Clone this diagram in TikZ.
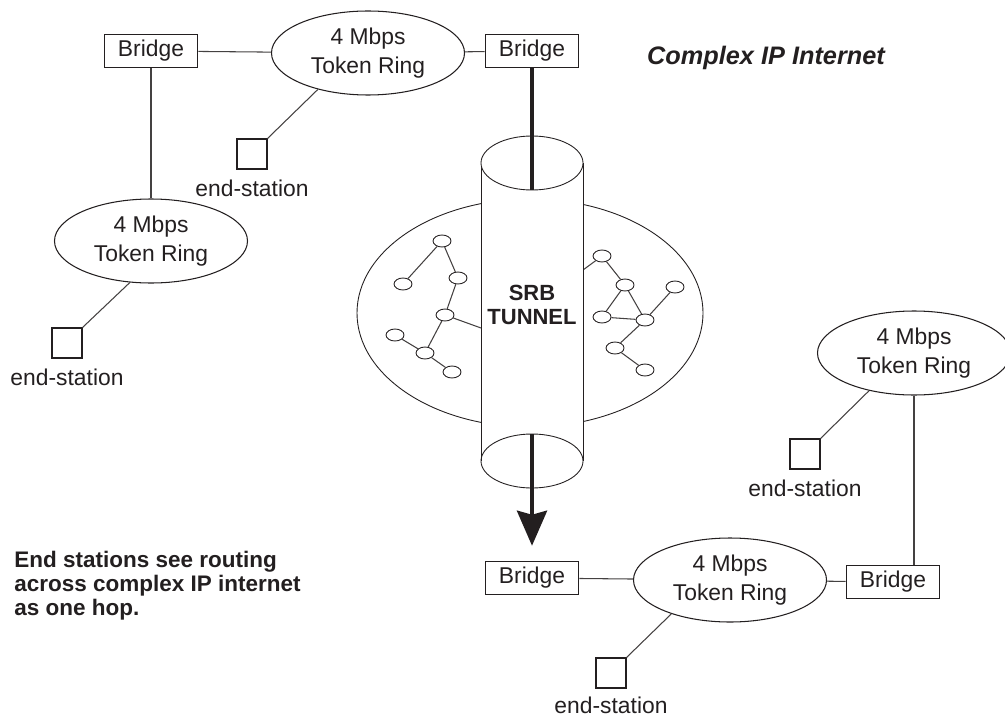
\documentclass[tikz,border=0pt]{standalone}
\usepackage{fontspec}
\setmainfont{Liberation Sans}
\usetikzlibrary{arrows.meta,shapes.geometric,positioning}
\definecolor{ink}{HTML}{231F20}
\begin{document}
\begin{tikzpicture}[x=0.2mm,y=-0.2mm,font=\fontsize{13}{16.5}\selectfont,text=ink]
\tikzstyle{bridge}=[rectangle,draw=ink,line width=0.6pt,minimum width=18.7mm,minimum height=6.7mm,inner sep=0pt]
\tikzstyle{ring}=[ellipse,draw=ink,line width=0.6pt,minimum width=38.6mm,minimum height=16.8mm,inner sep=0pt,align=center]
\tikzstyle{station}=[rectangle,draw=ink,line width=0.6pt,minimum size=6mm,inner sep=0pt]
\tikzstyle{stationlabel}=[inner sep=0pt]
\tikzstyle{host}=[ellipse,draw=ink,line width=0.5pt,minimum width=3.6mm,minimum height=2.4mm,inner sep=0pt]
\tikzstyle{link}=[draw=ink!85,line width=0.6pt]
\tikzstyle{tunnel}=[draw=ink,line width=0.8mm]
\useasboundingbox (0,0) rectangle (1005,717);

\draw[ink,line width=0.5pt] (530,313) ellipse [x radius=34.6mm,y radius=22.8mm];
\node[host] (h1) at (442,241) {};
\node[host] (h2) at (403,284) {};
\node[host] (h3) at (458,278) {};
\node[host] (h4) at (445,315) {};
\node[host] (h5) at (395,335) {};
\node[host] (h6) at (425,353) {};
\node[host] (h7) at (452,372) {};
\node[host] (h8) at (602,256) {};
\node[host] (h9) at (625,285) {};
\node[host] (h10) at (675,287) {};
\node[host] (h11) at (602,317) {};
\node[host] (h12) at (645,320) {};
\node[host] (h13) at (615,348) {};
\node[host] (h14) at (645,370) {};
\coordinate (c1) at (481,328);
\coordinate (c2) at (583,270);
\draw[link] (h1) -- (h2);
\draw[link] (h1) -- (h3);
\draw[link] (h3) -- (h4);
\draw[link] (h4) -- (h6);
\draw[link] (h5) -- (h6);
\draw[link] (h6) -- (h7);
\draw[link] (h4) -- (c1);
\draw[link] (h8) -- (c2);
\draw[link] (h8) -- (h9);
\draw[link] (h9) -- (h11);
\draw[link] (h9) -- (h12);
\draw[link] (h11) -- (h12);
\draw[link] (h12) -- (h10);
\draw[link] (h12) -- (h13);
\draw[link] (h13) -- (h14);

\fill[white] (481,163) rectangle (583,461);
\draw[ink,line width=0.5pt] (481,163) -- (481,461) (583,163) -- (583,461);
\draw[ink,line width=0.5pt,fill=white] (532,163) ellipse [x radius=10.2mm,y radius=5.4mm];
\draw[ink,line width=0.5pt] (532,461) ellipse [x radius=10.2mm,y radius=5.4mm];
\coordinate (t1) at (532,190);
\coordinate (t2) at (532,434);
\node[font=\bfseries\fontsize{12.5}{13.7}\selectfont,align=center] (srb) at (532,305) {SRB\\TUNNEL};

\node[bridge] (b1) at (151,51) {Bridge};
\node[bridge] (b2) at (532,51) {Bridge};
\node[bridge] (b3) at (532,578) {Bridge};
\node[bridge] (b4) at (893,582) {Bridge};
\node[ring] (r1) at (368,53) {4 Mbps\\Token Ring};
\node[ring] (r2) at (151,241) {4 Mbps\\Token Ring};
\node[ring] (r3) at (914,353) {4 Mbps\\Token Ring};
\node[ring] (r4) at (730,580) {4 Mbps\\Token Ring};
\node[station] (s1) at (252,154) {};
\node[station] (s2) at (67,343) {};
\node[station] (s3) at (805,454) {};
\node[station] (s4) at (611,673) {};
\node[stationlabel,below=2mm of s1] (l1) {end-station};
\node[stationlabel,below=2mm of s2] (l2) {end-station};
\node[stationlabel,below=2mm of s3] (l3) {end-station};
\node[stationlabel,below=1.6mm of s4] (l4) {end-station};

\draw[link] (b1) -- (r1);
\draw[link] (r1) -- (b2);
\draw[link] (b1) -- (r2);
\draw[link] (r1.216) -- (s1.north east);
\draw[link] (r2.243) -- (s2.north east);
\draw[link] (b3) -- (r4);
\draw[link] (r4) -- (b4);
\draw[link] (r3.south) -- (r3.south |- b4.north);
\draw[link] (r3.220) -- (s3.north east);
\draw[link] (r4.210) -- (s4.north east);

\draw[tunnel] (b2) -- (t1);
\draw[tunnel,-{Stealth[length=7mm,width=6mm,inset=0.8mm]},shorten >=3mm] (t2) -- (b3);

\node[font=\bfseries\itshape\fontsize{14.4}{17}\selectfont,anchor=base] (title) at (766,65) {Complex IP Internet};
\node[font=\bfseries\fontsize{12.8}{13.7}\selectfont,align=left,anchor=north west,inner sep=0pt] (note) at (14,551) {End stations see routing\\across complex IP internet\\as one hop.};
\end{tikzpicture}
\end{document}
